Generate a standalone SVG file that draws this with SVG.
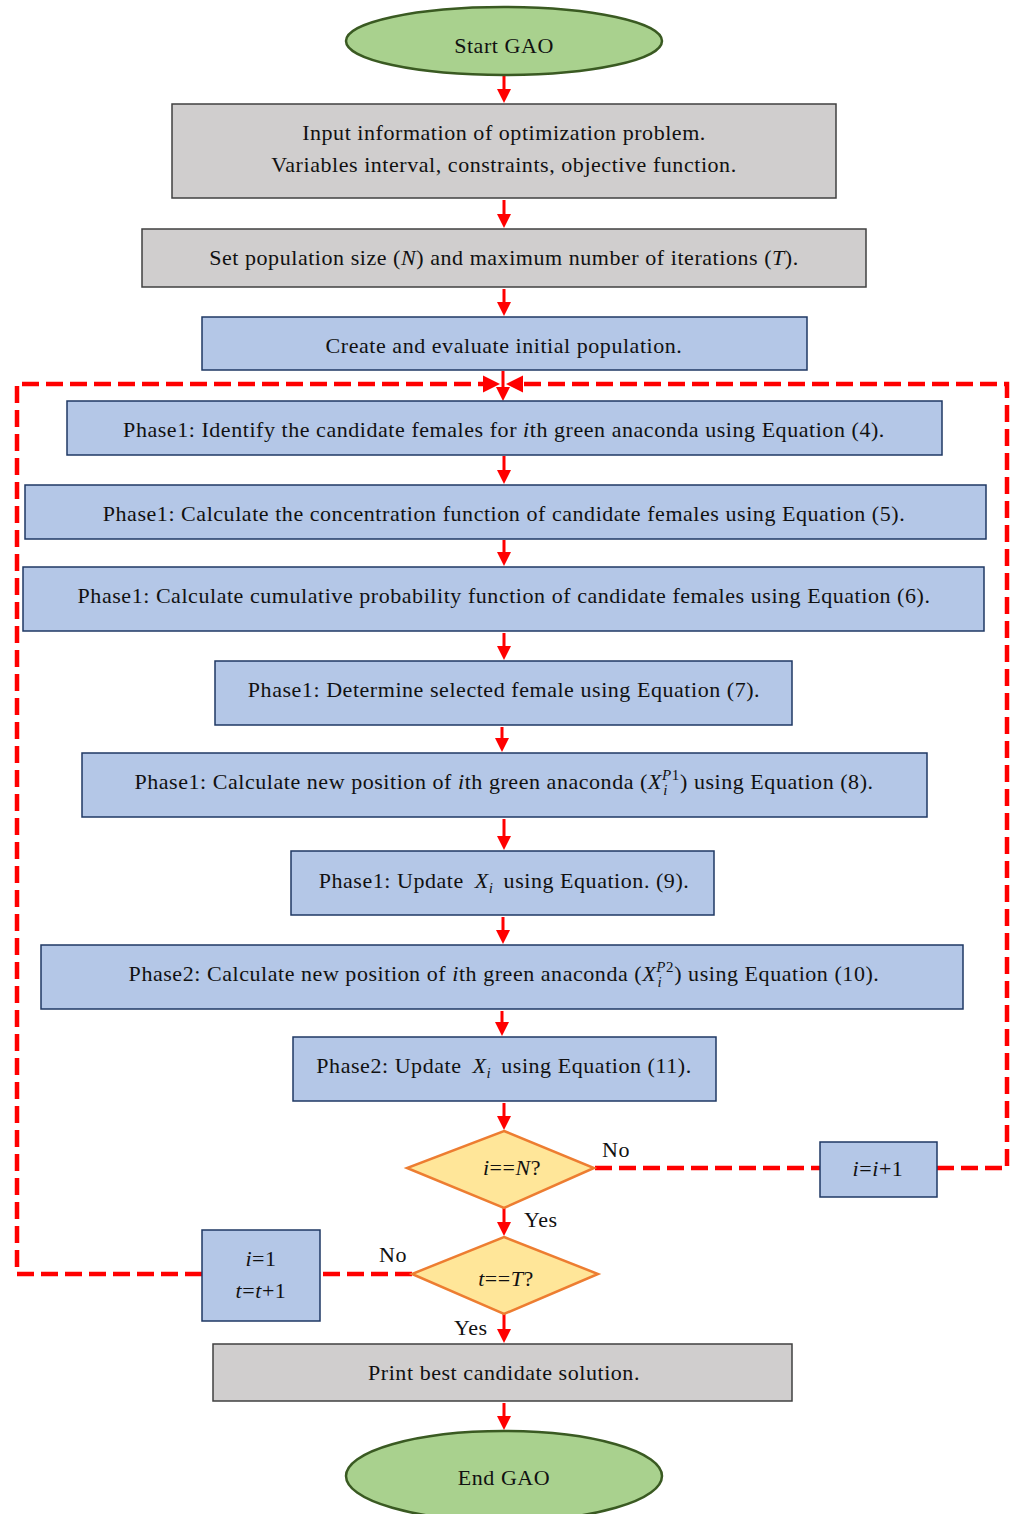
<svg xmlns="http://www.w3.org/2000/svg" width="1013" height="1514" viewBox="0 0 1013 1514">
<style>
  .t{font-family:"Liberation Serif","Times New Roman",serif;font-size:22px;letter-spacing:0.55px;fill:#111;}
  .gray{fill:#d0cece;stroke:#404040;stroke-width:1.5;}
  .blue{fill:#b4c7e7;stroke:#1f3864;stroke-width:1.5;}
  .term{fill:#a9d18e;stroke:#3a5a22;stroke-width:2.5;}
  .dec{fill:#ffe699;stroke:#ed7d31;stroke-width:2.5;}
  .arr{stroke:#ff0000;stroke-width:3;fill:none;marker-end:url(#ah);}
  .dash{stroke:#ff0000;stroke-width:4.5;fill:none;stroke-dasharray:17 7;}
  .it{font-style:italic;}
</style>
<defs>
  <marker id="ah" viewBox="0 0 14 14" refX="4" refY="7" markerWidth="14" markerHeight="14" markerUnits="userSpaceOnUse" orient="auto">
    <path d="M0,0 L14,7 L0,14 z" fill="#ff0000"/>
  </marker>
</defs>

<g id="connectors">
  <line class="arr" x1="504" y1="76" x2="504" y2="93"/>
  <line class="arr" x1="504" y1="200" x2="504" y2="218"/>
  <line class="arr" x1="504" y1="289" x2="504" y2="306"/>
  <line class="arr" x1="503" y1="371" x2="503" y2="391"/>
  <line class="arr" x1="504" y1="456" x2="504" y2="474"/>
  <line class="arr" x1="504" y1="540" x2="504" y2="556"/>
  <line class="arr" x1="504" y1="633" x2="504" y2="650"/>
  <line class="arr" x1="502" y1="727" x2="502" y2="742"/>
  <line class="arr" x1="504" y1="819" x2="504" y2="840"/>
  <line class="arr" x1="503" y1="917" x2="503" y2="934"/>
  <line class="arr" x1="502" y1="1011" x2="502" y2="1026"/>
  <line class="arr" x1="504" y1="1103" x2="504" y2="1120"/>
  <line class="arr" x1="504" y1="1208" x2="504" y2="1226"/>
  <line class="arr" x1="504" y1="1314" x2="504" y2="1333"/>
  <line class="arr" x1="504" y1="1403" x2="504" y2="1420"/>
  <!-- loop from i==N? -->
  <polyline class="dash" points="595,1168 820,1168"/>
  <polyline class="dash" points="937,1168 1007,1168 1007,384 522,384"/>
  <path d="M506,384 L523,375.5 L523,392.5 z" fill="#ff0000"/>
  <!-- loop from t==T? -->
  <polyline class="dash" points="412,1274 320,1274"/>
  <polyline class="dash" points="202,1274 17,1274 17,384 484,384"/>
  <path d="M500,384 L483,375.5 L483,392.5 z" fill="#ff0000"/>
  <text class="t" x="602" y="1157">No</text>
  <text class="t" x="524" y="1227">Yes</text>
  <text class="t" x="379" y="1262">No</text>
  <text class="t" x="454" y="1335">Yes</text>
</g>

<g id="start">
  <ellipse class="term" cx="504" cy="41" rx="158" ry="34"/>
  <text class="t" x="504" y="53" text-anchor="middle">Start GAO</text>
</g>
<g id="input">
  <rect class="gray" x="172" y="104" width="664" height="94"/>
  <text class="t" x="504" y="140" text-anchor="middle">Input information of optimization problem.</text>
  <text class="t" x="504" y="172" text-anchor="middle">Variables interval, constraints, objective function.</text>
</g>
<g id="setpop">
  <rect class="gray" x="142" y="229" width="724" height="58"/>
  <text class="t" x="504" y="265" text-anchor="middle">Set population size (<tspan class="it">N</tspan>) and maximum number of iterations (<tspan class="it">T</tspan>).</text>
</g>
<g id="create">
  <rect class="blue" x="202" y="317" width="605" height="53"/>
  <text class="t" x="504" y="353" text-anchor="middle">Create and evaluate initial population.</text>
</g>
<g id="p1a">
  <rect class="blue" x="67" y="401" width="875" height="54"/>
  <text class="t" x="504" y="437" text-anchor="middle">Phase1: Identify the candidate females for <tspan class="it">i</tspan>th green anaconda using Equation (4).</text>
</g>
<g id="p1b">
  <rect class="blue" x="25" y="485" width="961" height="54"/>
  <text class="t" x="504" y="521" text-anchor="middle">Phase1: Calculate the concentration function of candidate females using Equation (5).</text>
</g>
<g id="p1c">
  <rect class="blue" x="23" y="567" width="961" height="64"/>
  <text class="t" x="504" y="603" text-anchor="middle">Phase1: Calculate cumulative probability function of candidate females using Equation (6).</text>
</g>
<g id="p1d">
  <rect class="blue" x="215" y="661" width="577" height="64"/>
  <text class="t" x="504" y="697" text-anchor="middle">Phase1: Determine selected female using Equation (7).</text>
</g>
<g id="p1e">
  <rect class="blue" x="82" y="753" width="845" height="64"/>
  <text class="t" x="504" y="789" text-anchor="middle">Phase1: Calculate new position of <tspan class="it">i</tspan>th green anaconda (<tspan class="it">X</tspan><tspan font-size="15" dy="-9"><tspan class="it">P</tspan>1</tspan><tspan class="it" font-size="15" dx="-16.5" dy="15">i</tspan><tspan dx="12" dy="-6">) using Equation (8).</tspan></text>
</g>
<g id="p1f">
  <rect class="blue" x="291" y="851" width="423" height="64"/>
  <text class="t" x="504" y="888" text-anchor="middle">Phase1: Update <tspan class="it" dx="5">X</tspan><tspan class="it" font-size="15" dy="5">i</tspan><tspan dx="10" dy="-5">using Equation. (9).</tspan></text>
</g>
<g id="p2a">
  <rect class="blue" x="41" y="945" width="922" height="64"/>
  <text class="t" x="504" y="981" text-anchor="middle">Phase2: Calculate new position of <tspan class="it">i</tspan>th green anaconda (<tspan class="it">X</tspan><tspan font-size="15" dy="-9"><tspan class="it">P</tspan>2</tspan><tspan class="it" font-size="15" dx="-16.5" dy="15">i</tspan><tspan dx="12" dy="-6">) using Equation (10).</tspan></text>
</g>
<g id="p2b">
  <rect class="blue" x="293" y="1037" width="423" height="64"/>
  <text class="t" x="504" y="1073" text-anchor="middle">Phase2: Update <tspan class="it" dx="5">X</tspan><tspan class="it" font-size="15" dy="5">i</tspan><tspan dx="10" dy="-5">using Equation (11).</tspan></text>
</g>
<g id="decN">
  <polygon class="dec" points="504,1131 594,1168 504,1208 407,1168"/>
  <text class="t" x="512" y="1175" text-anchor="middle"><tspan class="it">i</tspan>==<tspan class="it">N</tspan>?</text>
</g>
<g id="incI">
  <rect class="blue" x="820" y="1142" width="117" height="55"/>
  <text class="t" x="878" y="1176" text-anchor="middle"><tspan class="it">i</tspan>=<tspan class="it">i</tspan>+1</text>
</g>
<g id="decT">
  <polygon class="dec" points="504,1237 598,1274 504,1314 412,1274"/>
  <text class="t" x="506" y="1286" text-anchor="middle"><tspan class="it">t</tspan>==<tspan class="it">T</tspan>?</text>
</g>
<g id="incT">
  <rect class="blue" x="202" y="1230" width="118" height="91"/>
  <text class="t" x="261" y="1266" text-anchor="middle"><tspan class="it">i</tspan>=1</text>
  <text class="t" x="261" y="1298" text-anchor="middle"><tspan class="it">t</tspan>=<tspan class="it">t</tspan>+1</text>
</g>
<g id="print">
  <rect class="gray" x="213" y="1344" width="579" height="57"/>
  <text class="t" x="504" y="1380" text-anchor="middle">Print best candidate solution.</text>
</g>
<g id="end">
  <ellipse class="term" cx="504" cy="1476" rx="158" ry="45"/>
  <text class="t" x="504" y="1485" text-anchor="middle">End GAO</text>
</g>
</svg>
